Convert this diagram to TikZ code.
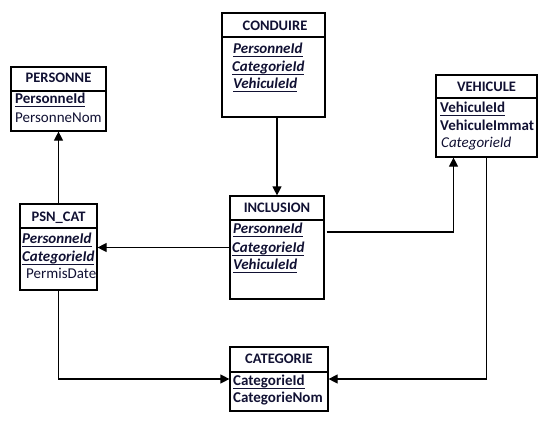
\documentclass[tikz,border=0pt]{standalone}
\usepackage{fontspec}
\setmainfont{Carlito}
\usetikzlibrary{arrows.meta}
\definecolor{txt}{HTML}{111133}
\newcommand\keyul[1]{\setbox0\hbox{#1}\rlap{\rule[-3.6pt]{\wd0}{0.9pt}}\box0}
\begin{document}
\begin{tikzpicture}[x=1pt,y=-1pt,
  box/.style={draw, line width=1.2pt, inner sep=0pt},
  hdr/.style={anchor=base, inner sep=0pt, text=txt, font=\fontsize{14.5}{17}\selectfont\bfseries},
  fld/.style={anchor=base west, inner sep=0pt, text=txt, font=\fontsize{15}{18}\selectfont},
  conn/.style={line width=1.2pt},
  arr/.style={conn, -{Triangle[length=9pt,width=9pt]}}]
\useasboundingbox (0,0) rectangle (548,428);
% boxes
\node[box, minimum width=95pt, minimum height=64pt] (personne) at (58.5,99) {};
\node[box, minimum width=103pt, minimum height=104pt] (conduire) at (273.5,65) {};
\node[box, minimum width=101pt, minimum height=82pt] (vehicule) at (486.5,116) {};
\node[box, minimum width=77pt, minimum height=86pt] (psncat) at (58.5,247) {};
\node[box, minimum width=94pt, minimum height=103pt] (inclusion) at (277,247.5) {};
\node[box, minimum width=98pt, minimum height=64pt] (categorie) at (279,379) {};
% dividers
\draw[conn] (personne.west |- 0,91) -- (personne.east |- 0,91);
\draw[conn] (conduire.west |- 0,37) -- (conduire.east |- 0,37);
\draw[conn] (vehicule.west |- 0,98) -- (vehicule.east |- 0,98);
\draw[conn] (psncat.west |- 0,228) -- (psncat.east |- 0,228);
\draw[conn] (inclusion.west |- 0,220) -- (inclusion.east |- 0,220);
\draw[conn] (categorie.west |- 0,372) -- (categorie.east |- 0,372);
% headers
\node[hdr] (hpersonne) at (58.5,82) {PERSONNE};
\node[hdr] (hconduire) at (275,31) {CONDUIRE};
\node[hdr] (hvehicule) at (486.5,91) {VEHICULE};
\node[hdr] (hpsncat) at (58.5,221) {PSN\_CAT};
\node[hdr] (hinclusion) at (277,212) {INCLUSION};
\node[hdr] (hcategorie) at (279,363) {CATEGORIE};
% fields
\node[fld] (p1) at (15,103) {\bfseries\keyul{PersonneId}};
\node[fld] (p2) at (15,122) {PersonneNom};
\node[fld] (c1) at (233,53) {\bfseries\itshape\keyul{PersonneId}};
\node[fld] (c2) at (232,71) {\bfseries\itshape\keyul{CategorieId}};
\node[fld] (c3) at (233,88) {\bfseries\itshape\keyul{VehiculeId}};
\node[fld] (v1) at (440,112) {\bfseries\keyul{VehiculeId}};
\node[fld] (v2) at (440,130) {\bfseries VehiculeImmat};
\node[fld] (v3) at (441,147) {\itshape CategorieId};
\node[fld] (s1) at (22,243) {\bfseries\itshape\keyul{PersonneId}};
\node[fld] (s2) at (22,261) {\bfseries\itshape\keyul{CategorieId}};
\node[fld] (s3) at (26,278) {PermisDate};
\node[fld] (i1) at (233,233) {\bfseries\itshape\keyul{PersonneId}};
\node[fld] (i2) at (232,252) {\bfseries\itshape\keyul{CategorieId}};
\node[fld] (i3) at (233,269) {\bfseries\itshape\keyul{VehiculeId}};
\node[fld] (k1) at (233,385) {\bfseries\keyul{CategorieId}};
\node[fld] (k2) at (233,402) {\bfseries CategorieNom};
% connectors
\draw[arr] (psncat.north) -- (personne.south);
\draw[arr] (conduire.south -| inclusion.north) -- (inclusion.north);
\draw[arr] (inclusion.west) -- (inclusion.west -| psncat.east);
\coordinate (iv) at ([shift={(2,-15.5)}]inclusion.east);
\coordinate (vb) at ([xshift=-33pt]vehicule.south);
\draw[arr] (iv) -| (vb);
\draw[arr] (vehicule.south) |- (categorie.east);
\draw[arr] (psncat.south) |- (categorie.west);
\end{tikzpicture}
\end{document}
